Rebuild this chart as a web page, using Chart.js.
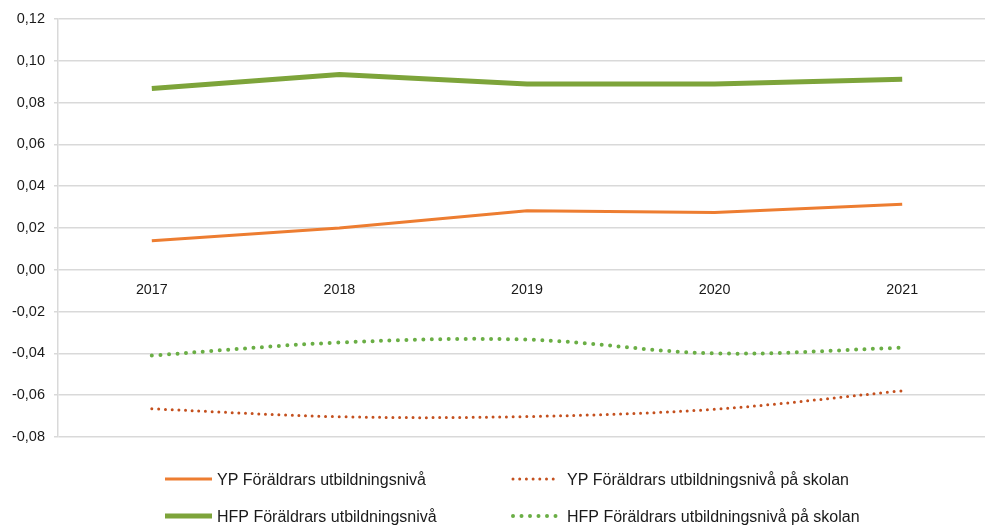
<!DOCTYPE html>
<html>
<head>
<meta charset="utf-8">
<script src="https://cdn.jsdelivr.net/npm/chart.js@4/dist/chart.umd.min.js"></script>
<style>
  html, body { margin: 0; padding: 0; background: #fff; overflow: hidden; }
  #wrap { width: 985px; height: 526px; overflow: hidden; }
</style>
</head>
<body>
<div id="wrap"><canvas id="trendChart" width="996" height="526"></canvas></div>
<script>
    const years = ['2017', '2018', '2019', '2020', '2021'];
    const ypNiva = [0.0139, 0.0200, 0.0282, 0.0274, 0.0314];
    const ypNivaSkolan = [-0.0665, -0.0703, -0.0702, -0.0667, -0.0579];
    const hfpNiva = [0.0867, 0.0934, 0.0889, 0.0889, 0.0912];
    const hfpNivaSkolan = [-0.0410, -0.0348, -0.0334, -0.0400, -0.0373];
    const yTicks = [-0.08, -0.06, -0.04, -0.02, 0, 0.02, 0.04, 0.06, 0.08, 0.10, 0.12];

    const fontFamily = '"Liberation Sans", Arial, sans-serif';
    const ctx = document.getElementById('trendChart').getContext('2d');

    // legend laid out as a 2x2 grid under the plot
    const gridLegend = {
        id: 'gridLegend',
        afterDraw(chart) {
            const { ctx } = chart;
            const cols = [165, 513];
            const rows = [479, 516];
            ctx.save();
            ctx.font = '16px ' + fontFamily;
            ctx.textBaseline = 'middle';
            ctx.fillStyle = '#1a1a1a';
            chart.data.datasets.forEach((ds, i) => {
                const x = cols[i % 2];
                const y = rows[Math.floor(i / 2)];
                ctx.beginPath();
                ctx.strokeStyle = ds.borderColor;
                ctx.lineWidth = ds.borderWidth;
                ctx.lineCap = ds.borderCapStyle || 'butt';
                ctx.setLineDash(ds.borderDash || []);
                ctx.moveTo(x, y);
                ctx.lineTo(x + (ds.borderDash ? 46 : 47), y);
                ctx.stroke();
                ctx.setLineDash([]);
                ctx.fillText(ds.label, x + (ds.borderDash ? 54 : 52), y + 2);
            });
            ctx.restore();
        }
    };

    new Chart(ctx, {
        type: 'line',
        data: {
            labels: years,
            datasets: [{
                label: 'YP Föräldrars utbildningsnivå',
                data: ypNiva,
                borderColor: '#ED7D31',
                borderWidth: 3,
                tension: 0,
                pointRadius: 0
            }, {
                label: 'YP Föräldrars utbildningsnivå på skolan',
                data: ypNivaSkolan,
                borderColor: '#C4501E',
                borderWidth: 3,
                borderDash: [0, 6.7],
                borderCapStyle: 'round',
                tension: 0.35,
                pointRadius: 0
            }, {
                label: 'HFP Föräldrars utbildningsnivå',
                data: hfpNiva,
                borderColor: '#7DA43A',
                borderWidth: 5,
                tension: 0,
                pointRadius: 0
            }, {
                label: 'HFP Föräldrars utbildningsnivå på skolan',
                data: hfpNivaSkolan,
                borderColor: '#6AAE45',
                borderWidth: 4,
                borderDash: [0, 8.5],
                borderCapStyle: 'round',
                tension: 0.35,
                pointRadius: 0
            }]
        },
        options: {
            responsive: false,
            animation: false,
            layout: {
                padding: { top: 19, bottom: 89, left: 0, right: 0 }
            },
            plugins: {
                legend: { display: false },
                title: { display: false },
                tooltip: { enabled: false }
            },
            scales: {
                x: {
                    position: { y: 0 },
                    offset: true,
                    grid: { display: false },
                    border: { display: false },
                    ticks: {
                        padding: 4,
                        color: '#1a1a1a',
                        font: { size: 14.3, family: fontFamily }
                    }
                },
                y: {
                    min: -0.08,
                    max: 0.12,
                    afterFit(scale) { scale.width = 58; },
                    afterBuildTicks(scale) { scale.ticks = yTicks.map(v => ({ value: v })); },
                    grid: { color: '#d9d9d9', lineWidth: 1.5, tickLength: 4 },
                    border: { color: '#d9d9d9', width: 1.5 },
                    ticks: {
                        padding: 9,
                        color: '#1a1a1a',
                        font: { size: 14.5, family: fontFamily },
                        callback: v => (Math.round(v * 100) / 100).toFixed(2).replace('.', ',')
                    }
                }
            }
        },
        plugins: [gridLegend]
    });
</script>
</body>
</html>
